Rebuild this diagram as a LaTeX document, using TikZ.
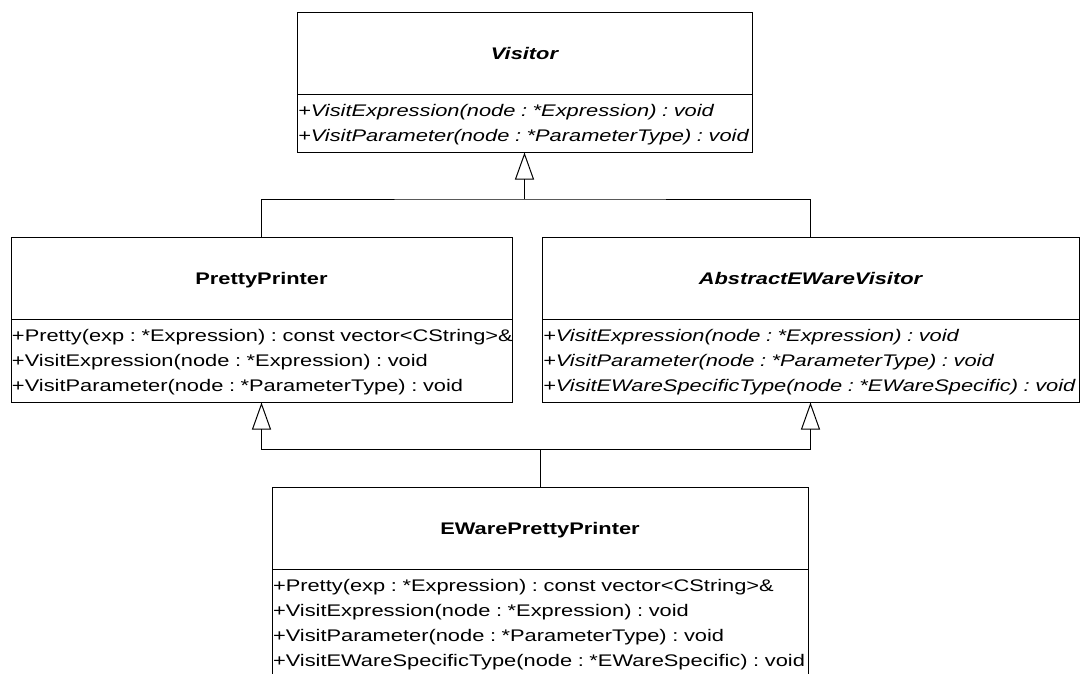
\documentclass[tikz,border=0pt]{standalone}
\usepackage{fontspec}
\usetikzlibrary{positioning,arrows.meta}
\newfontfamily\umlfont[FakeStretch=1.30]{Liberation Sans}
\newcommand{\umlsize}{\fontsize{16.8}{25}\selectfont\frenchspacing}
\newcommand{\member}[1]{\strut\mbox{#1}}
\tikzset{
    x={1pt},
    y={-1pt},
    class title/.style={
        draw, line width={1pt},
        font={\umlfont\umlsize\bfseries},
        minimum width={#1}, minimum height={82.5},
        text height={12}, text depth={0pt},
        inner sep=0pt, outer sep=0pt,
        anchor=north west,
    },
    class body/.style={
        draw, line width={1pt},
        font={\umlfont\umlsize},
        text width={#1-2}, align=left,
        inner xsep=1pt, inner ysep=4pt, outer sep=0pt,
    },
    abstract body/.style={
        class body={#1},
        font={\umlfont\umlsize\itshape},
    },
    link/.style={
        draw, line width={1pt},
    },
    generalization/.style={
        link,
        -{Triangle[open, length=27pt, width=19pt]},
    },
}

\begin{document}
\begin{tikzpicture}
\clip (0,0) rectangle (1080,673);
\fill[white] (0,0) rectangle (1080,673);
% classes
\node[class title={455}] (visitor) at (297,12) {\itshape Visitor};
\node[abstract body={455}, below=0pt of visitor] (visitor body)
    {\member{+VisitExpression(node : *Expression) : void}\\
     \member{+VisitParameter(node : *ParameterType) : void}};
\node[class title={501}] (pretty) at (11,237) {PrettyPrinter};
\node[class body={501}, below=0pt of pretty] (pretty body)
    {\member{+Pretty(exp : *Expression) : const vector<CString>\&}\\
     \member{+VisitExpression(node : *Expression) : void}\\
     \member{+VisitParameter(node : *ParameterType) : void}};
\node[class title={537}] (abstract) at (542,237) {\itshape AbstractEWareVisitor};
\node[abstract body={537}, below=0pt of abstract] (abstract body)
    {\member{+VisitExpression(node : *Expression) : void}\\
     \member{+VisitParameter(node : *ParameterType) : void}\\
     \member{+VisitEWareSpecificType(node : *EWareSpecific) : void}};
\node[class title={536}] (eware) at (272,487) {EWarePrettyPrinter};
\node[class body={536}, below=0pt of eware] (eware body)
    {\member{+Pretty(exp : *Expression) : const vector<CString>\&}\\
     \member{+VisitExpression(node : *Expression) : void}\\
     \member{+VisitParameter(node : *ParameterType) : void}\\
     \member{+VisitEWareSpecificType(node : *EWareSpecific) : void}};
% inheritance
\coordinate (upper join) at (visitor body.south |- 0,199);
\coordinate (lower join) at (eware.north |- 0,449);
\path[generalization] (upper join) -- (visitor body.south);
\path[link] (pretty.north) |- (upper join) -| (abstract.north);
\path[link] (eware.north) -- (lower join);
\path[generalization] (lower join) -| (pretty body.south);
\path[generalization] (lower join) -| (abstract body.south);
\end{tikzpicture}
\end{document}
